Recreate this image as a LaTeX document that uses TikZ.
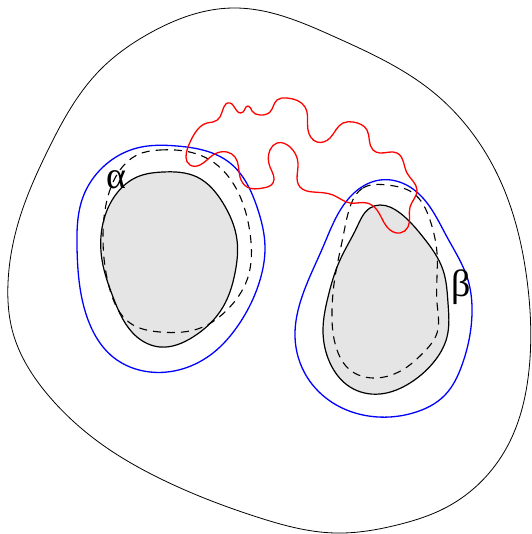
\documentclass[tikz,border=0pt]{standalone}
\usepackage{fontspec}
\newfontfamily\greekfont{Liberation Serif}
\usetikzlibrary{hobby}
\begin{document}
\begin{tikzpicture}[x=1pt,y=-1pt,
  outer/.style={draw=black,line width=0.8pt},
  bluecurve/.style={draw=blue,line width=1.3pt},
  dashcurve/.style={draw=black,line width=1.1pt,dash pattern=on 8pt off 6pt},
  body/.style={draw=black,fill=black!10,line width=1.2pt},
  redcurve/.style={draw=red,line width=1.3pt},
  lbl/.style={font=\greekfont\fontsize{38}{40}\selectfont,inner sep=0pt}]
\useasboundingbox (0,0) rectangle (531,534);
% outer region
\draw[outer,use Hobby shortcut,closed=true] (233,8) .. (335,37) .. (433,92) .. (500,180) .. (527,280) .. (529,370) .. (507,447) .. (447,507) .. (397,525) .. (335,533) .. (257,517) .. (157,477) .. (107,448) .. (48,395) .. (13,333) .. (8,283) .. (20,217) .. (48,150) .. (100,70) .. (150,33);
% left hole
\draw[bluecurve,use Hobby shortcut,closed=true] (177,146) .. (230,163) .. (257,207) .. (265,247) .. (260,280) .. (237,327) .. (213,353) .. (150,372) .. (113,357) .. (87,317) .. (77,247) .. (83,197) .. (103,167) .. (137,148);
\draw[body,use Hobby shortcut,closed=true] (163,172) .. (197,177) .. (223,203) .. (237,240) .. (235,273) .. (223,307) .. (193,337) .. (160,347) .. (137,337) .. (113,297) .. (102,260) .. (103,223) .. (117,193) .. (137,177);
\draw[dashcurve,use Hobby shortcut,closed=true] (160,150) .. (210,160) .. (237,190) .. (250,233) .. (247,280) .. (227,310) .. (203,327) .. (160,332) .. (130,323) .. (110,290) .. (103,240) .. (107,200) .. (120,170) .. (137,155);
% right hole
\draw[bluecurve,use Hobby shortcut,closed=true] (380,180) .. (410,187) .. (430,207) .. (447,237) .. (468,280) .. (472,313) .. (462,365) .. (445,395) .. (413,413) .. (363,415) .. (333,403) .. (307,377) .. (295,337) .. (300,303) .. (323,247) .. (350,197);
\draw[body,use Hobby shortcut,closed=true] (380,205) .. (400,213) .. (423,237) .. (443,270) .. (448,303) .. (447,337) .. (433,363) .. (410,383) .. (380,394) .. (350,387) .. (330,363) .. (323,330) .. (328,297) .. (340,260) .. (357,227) .. (370,208);
\draw[dashcurve,use Hobby shortcut,closed=true] (363,188) .. (387,185) .. (413,193) .. (430,220) .. (437,253) .. (437,303) .. (437,333) .. (423,353) .. (407,367) .. (373,378) .. (350,370) .. (337,350) .. (332,310) .. (335,277) .. (343,237) .. (350,207);
% red loop
\draw[redcurve,use Hobby shortcut,closed=true] (213,122) .. (220,117) .. (230,103) .. (243,112) .. (248,106) .. (252,111) .. (260,115) .. (270,112) .. (277,100) .. (287,98) .. (305,107) .. (308,130) .. (317,142) .. (330,138) .. (343,123) .. (353,122) .. (367,130) .. (373,150) .. (380,153) .. (397,153) .. (407,173) .. (417,190) .. (410,207) .. (408,227) .. (400,233) .. (387,227) .. (377,210) .. (367,203) .. (350,203) .. (333,195) .. (313,192) .. (300,187) .. (298,163) .. (290,147) .. (277,143) .. (270,150) .. (270,167) .. (273,183) .. (263,188) .. (247,187) .. (240,177) .. (235,157) .. (227,152) .. (213,155) .. (200,165) .. (190,165) .. (188,147) .. (195,133) .. (207,123);
% labels
\node[lbl] (alpha) at (116,180) {α};
\node[lbl] (beta) at (461,287) {β};
\end{tikzpicture}
\end{document}
